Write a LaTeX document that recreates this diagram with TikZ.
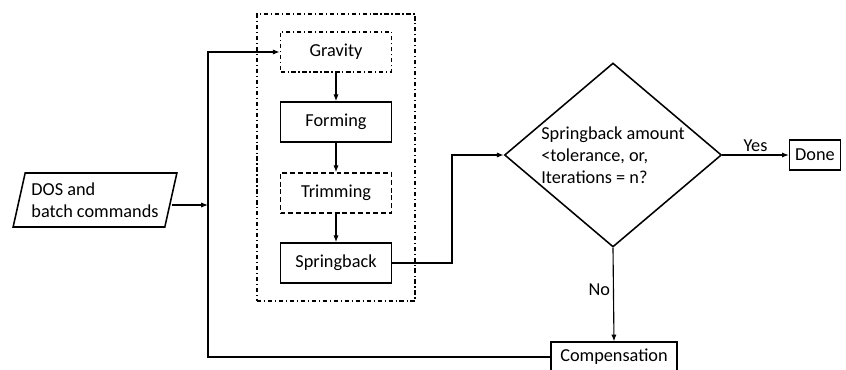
\documentclass[tikz,border=0pt]{standalone}
\usepackage{fontspec}
\setmainfont{Carlito}
\usepackage{tikz}
\usetikzlibrary{positioning,arrows.meta,fit,shapes.geometric}
\tikzset{
  flowarrow/.style={-{Latex[length=1.7mm,width=1.3mm]}, line width=0.8pt},
  stepbox/.style={draw, line width=1.1pt, minimum width=2.775cm, minimum height=1.0cm, align=center},
  optbox/.style={stepbox, dash pattern=on 3pt off 2pt on 0.8pt off 2pt},
  dashbox/.style={stepbox, dash pattern=on 3.5pt off 2pt},
  smallbox/.style={draw, line width=1.1pt, minimum height=0.74cm, inner xsep=4pt, align=center},
  inputnode/.style={draw, line width=1.1pt, trapezium, trapezium left angle=75, trapezium right angle=105, trapezium stretches=true, minimum width=4.1cm, minimum height=1.35cm, align=left},
  decnode/.style={draw, line width=1.1pt, diamond, aspect=1.18, inner sep=0pt, minimum width=5.425cm, minimum height=4.6cm, align=left},
  groupbox/.style={draw, line width=1.1pt, dash pattern=on 3pt off 2pt on 0.8pt off 2pt, inner xsep=0.57cm, inner ysep=0.43cm},
  relabel/.style={inner sep=2pt}
}

\begin{document}
\begin{tikzpicture}[>=Latex, every node/.style={font=\fontsize{13}{15.5}\selectfont}]
  \useasboundingbox (0,0) rectangle (21.15,9.225);
  % simulation steps
  \node[optbox] (grav) at (8.4,7.925) {Gravity};
  \node[stepbox] (form) at (8.4,6.175) {Forming};
  \node[dashbox] (trim) at (8.4,4.4) {Trimming};
  \node[stepbox] (spring) at (8.4,2.65) {Springback};
  \node[groupbox, fit=(grav) (form) (trim) (spring)] (group) {};
  \draw[flowarrow] (grav) -- (form);
  \draw[flowarrow] (form) -- (trim);
  \draw[flowarrow] (trim) -- (spring);

  % input and loop
  \node[inputnode] (dos) at (2.375,4.225) {DOS and\\batch commands};
  \coordinate (bus) at (5.2,4.1);
  \node[decnode] (check) at (15.325,5.35) {Springback amount\\<tolerance, or,\\Iterations = n?};
  \node[smallbox] (done) at (20.375,5.35) {Done};
  \node[smallbox, minimum width=3.15cm] (comp) at (15.35,0.3) {Compensation};

  \draw[flowarrow] (dos.east |- bus) -- (bus);
  \draw[flowarrow] (comp.west) -| (bus |- grav.west) -- (grav.west);
  \draw[flowarrow] (spring.east) -- (11.3,2.65) |- (check.west);
  \draw[flowarrow] (check.east) -- node[relabel, above] {Yes} (done.west);
  \draw[flowarrow] (check.south) -- node[relabel, left, pos=0.45] {No} (comp.north);
\end{tikzpicture}
\end{document}
